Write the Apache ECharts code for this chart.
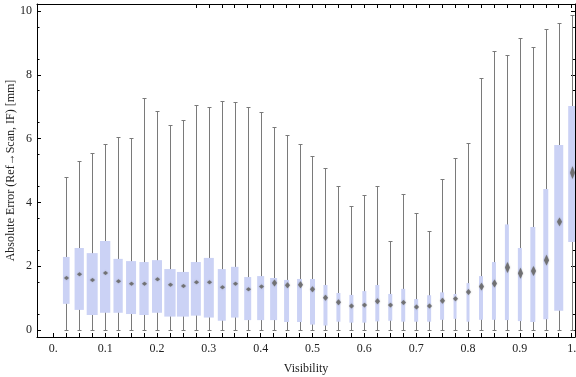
<!DOCTYPE html>
<html>
<head>
<meta charset="utf-8">
<script src="https://cdn.jsdelivr.net/npm/echarts@6/dist/echarts.min.js"></script>
<style>
html,body{margin:0;padding:0;background:#fff;}
#chart{width:576px;height:377px;}
</style>
</head>
<body>
<div id="chart"></div>
<script>
// ---- data ----
const visibility = [0.025,0.05,0.075,0.1,0.125,0.15,0.175,0.2,0.225,0.25,
                    0.275,0.3,0.325,0.35,0.375,0.4,0.425,0.45,0.475,0.5,
                    0.525,0.55,0.575,0.6,0.625,0.65,0.675,0.7,0.725,0.75,
                    0.775,0.8,0.825,0.85,0.875,0.9,0.925,0.95,0.975,1.0];
const whiskerLow = [0,0,0,0,0,0,0,0,0,0, 0,0,0,0,0,0,0,0,0,0,
                    0,0,0,0,0,0,0,0,0,0, 0,0,0,0,0,0,0,0,0,0];
const quartile1 = [0.82,0.63,0.47,0.54,0.54,0.50,0.47,0.54,0.42,0.42,
                   0.45,0.39,0.29,0.39,0.31,0.31,0.31,0.25,0.25,0.17,
                   0.14,0.26,0.23,0.23,0.27,0.29,0.26,0.26,0.26,0.32,
                   0.35,0.26,0.32,0.32,0.31,0.28,0.25,0.34,0.60,2.76];
const medians   = [1.63,1.75,1.57,1.79,1.53,1.45,1.45,1.59,1.42,1.38,
                   1.50,1.50,1.34,1.45,1.28,1.36,1.47,1.40,1.42,1.28,
                   1.01,0.87,0.75,0.78,0.90,0.78,0.86,0.72,0.75,0.92,
                   0.98,1.19,1.36,1.46,1.96,1.78,1.85,2.19,3.39,4.93];
const quartile3 = [2.29,2.57,2.41,2.79,2.23,2.16,2.13,2.19,1.91,1.82,
                   2.13,2.26,1.91,1.98,1.66,1.69,1.63,1.57,1.60,1.60,
                   1.41,1.16,1.10,1.22,1.41,1.13,1.29,0.97,1.09,1.18,
                   1.13,1.47,1.69,2.13,3.31,2.57,3.23,4.42,5.80,7.02];
const whiskerHigh = [4.79,5.29,5.54,5.82,6.05,6.02,7.26,6.86,6.42,6.57,
                     7.04,6.98,7.17,7.14,6.98,6.82,6.35,6.10,5.82,5.44,
                     5.07,4.50,3.89,4.23,4.51,2.78,4.25,3.66,3.09,4.72,
                     5.38,5.85,7.89,8.74,8.61,9.14,8.86,9.45,9.61,9.86];
// box widths (in Visibility units, proportional to sample size)
const boxWidths = [0.0129,0.0179,0.0212,0.0199,0.0179,0.0193,0.0179,0.0193,0.0218,0.0231,
                   0.0193,0.0193,0.0154,0.0145,0.0135,0.0135,0.0135,0.0096,0.0096,0.0096,
                   0.0077,0.0077,0.0077,0.0077,0.0077,0.0077,0.0077,0.0077,0.0077,0.0077,
                   0.0058,0.0058,0.0077,0.0077,0.0077,0.0077,0.0096,0.0096,0.0174,0.0135];
// half height of the median confidence diamond (in mm)
const medianSpread = [0.063,0.063,0.063,0.063,0.063,0.063,0.063,0.063,0.063,0.063,
                      0.063,0.063,0.063,0.063,0.063,0.063,0.11,0.094,0.11,0.094,
                      0.094,0.094,0.078,0.078,0.094,0.078,0.078,0.078,0.078,0.094,
                      0.078,0.094,0.125,0.125,0.17,0.17,0.157,0.17,0.14,0.2];

const xLabelValues = [0,0.1,0.2,0.3,0.4,0.5,0.6,0.7,0.8,0.9,1.0];
const xLabelTexts  = ['0.','0.1','0.2','0.3','0.4','0.5','0.6','0.7','0.8','0.9','1.'];
const yLabelValues = [0,2,4,6,8,10];
const yLabelTexts  = ['0','2','4','6','8','10'];

// ---- derived tick positions ----
const xMinorTicks = [0].concat(visibility);
const xTopTicks = visibility.filter(v => v > 0.26);
const yMinorTicks = [];
for (let k = 1; k < 20; k += 2) yMinorTicks.push(k * 0.5);

const boxData = visibility.map((v, i) => [v, whiskerLow[i], quartile1[i], medians[i],
  quartile3[i], whiskerHigh[i], boxWidths[i], medianSpread[i]]);

const WHISKER = '#7a7a7a';
const BOX = '#cbd2f5';
const MED = '#6d6d6d';
const FONT = 'Liberation Serif';

function renderItem(params, api) {
  const x = api.value(0);
  const pLo = api.coord([x, api.value(1)]);
  const pQ1 = api.coord([x, api.value(2)]);
  const pMed = api.coord([x, api.value(3)]);
  const pQ3 = api.coord([x, api.value(4)]);
  const pHi = api.coord([x, api.value(5)]);
  const bw = api.size([api.value(6), 0])[0];
  const sh = Math.max(2, api.size([0, api.value(7)])[1]);
  const cx = Math.round(pLo[0]) + 0.5;
  const yLo = Math.round(pLo[1]) + 0.5;
  const yHi = Math.round(pHi[1]) + 0.5;
  const lineStyle = {stroke: WHISKER, lineWidth: 1, fill: null};
  const hw = 2.5;
  return {
    type: 'group',
    children: [
      {type: 'line', shape: {x1: cx, y1: yLo, x2: cx, y2: yHi}, style: lineStyle},
      {type: 'line', shape: {x1: cx - 2, y1: yHi, x2: cx + 2, y2: yHi}, style: lineStyle},
      {type: 'line', shape: {x1: cx - 2, y1: yLo, x2: cx + 2, y2: yLo}, style: lineStyle},
      {type: 'rect', shape: {x: pQ1[0] - bw / 2, y: pQ3[1], width: bw, height: pQ1[1] - pQ3[1]},
        style: {fill: BOX, stroke: null}},
      {type: 'polygon', shape: {points: [[cx, pMed[1] - sh], [cx + hw, pMed[1]], [cx, pMed[1] + sh], [cx - hw, pMed[1]]]},
        style: {fill: MED, opacity: 0.9, shadowBlur: 1.5, shadowColor: 'rgba(90,90,90,0.6)'}}
    ]
  };
}

const X_MIN = -0.03144, X_MAX = 1.00637;
const Y_MIN = -0.2194, Y_MAX = 10.2194;
const axisLineStyle = {color: '#000', width: 1};

const chart = echarts.init(document.getElementById('chart'), null, {renderer: 'canvas'});
chart.setOption({
  animation: false,
  backgroundColor: '#fff',
  grid: {left: 37, top: 4, right: 1, bottom: 40, containLabel: false, outerBoundsMode: 'none'},
  xAxis: [
    {
      type: 'value', position: 'bottom', min: X_MIN, max: X_MAX,
      name: 'Visibility', nameLocation: 'middle', nameGap: 26, nameMoveOverlap: false,
      nameTextStyle: {fontFamily: FONT, fontSize: 12, color: '#222'},
      axisLine: {show: true, onZero: false, lineStyle: axisLineStyle},
      axisTick: {show: true, inside: true, length: 4, customValues: xMinorTicks, lineStyle: {color: '#000'}},
      axisLabel: {show: true, customValues: xLabelValues, margin: 6,
        fontFamily: FONT, fontSize: 12, color: '#222',
        formatter: v => { const i = xLabelValues.findIndex(t => Math.abs(t - v) < 1e-6); return i >= 0 ? xLabelTexts[i] : ''; }},
      splitLine: {show: false}
    },
    {
      type: 'value', position: 'top', min: X_MIN, max: X_MAX,
      axisLine: {show: true, onZero: false, lineStyle: axisLineStyle},
      axisTick: {show: true, inside: true, length: 4, customValues: xTopTicks, lineStyle: {color: '#000'}},
      axisLabel: {show: false},
      splitLine: {show: false}
    }
  ],
  yAxis: [
    {
      type: 'value', position: 'left', min: Y_MIN, max: Y_MAX,
      name: 'Absolute Error (Ref\u2192Scan, IF) [mm]', nameLocation: 'middle', nameGap: 20, nameRotate: 90,
      nameMoveOverlap: false,
      nameTextStyle: {fontFamily: FONT, fontSize: 12, color: '#222'},
      axisLine: {show: true, onZero: false, lineStyle: axisLineStyle},
      axisTick: {show: true, inside: true, length: 4, customValues: yLabelValues, lineStyle: {color: '#000'}},
      axisLabel: {show: true, customValues: yLabelValues, margin: 5,
        fontFamily: FONT, fontSize: 12, color: '#222',
        formatter: v => { const i = yLabelValues.findIndex(t => Math.abs(t - v) < 1e-6); return i >= 0 ? yLabelTexts[i] : ''; }},
      splitLine: {show: false}
    },
    {
      type: 'value', position: 'left', min: Y_MIN, max: Y_MAX,
      axisLine: {show: false, onZero: false},
      axisTick: {show: true, inside: true, length: 2.5, customValues: yMinorTicks, lineStyle: {color: '#000'}},
      axisLabel: {show: false}, splitLine: {show: false}
    },
    {
      type: 'value', position: 'right', min: Y_MIN, max: Y_MAX,
      axisLine: {show: true, onZero: false, lineStyle: axisLineStyle},
      axisTick: {show: true, inside: true, length: 4, customValues: yLabelValues, lineStyle: {color: '#000'}},
      axisLabel: {show: false}, splitLine: {show: false}
    },
    {
      type: 'value', position: 'right', min: Y_MIN, max: Y_MAX,
      axisLine: {show: false, onZero: false},
      axisTick: {show: true, inside: true, length: 2.5, customValues: yMinorTicks, lineStyle: {color: '#000'}},
      axisLabel: {show: false}, splitLine: {show: false}
    }
  ],
  series: [{
    type: 'custom',
    xAxisIndex: 0, yAxisIndex: 0,
    renderItem: renderItem,
    data: boxData,
    encode: {x: 0, y: [1, 5]},
    clip: true
  }]
});
</script>
</body>
</html>
